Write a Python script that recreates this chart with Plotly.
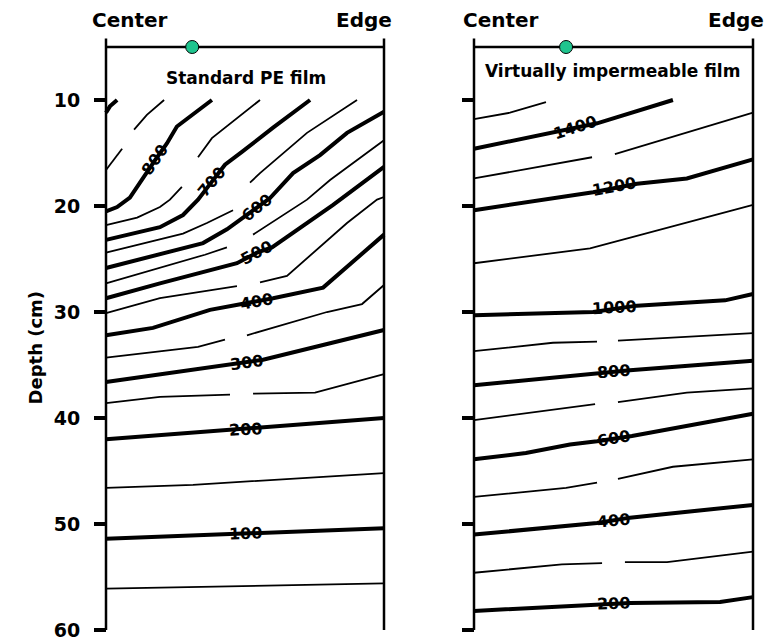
import plotly.graph_objects as go

# ---------------- data (x: 0 = Center, 1 = Edge ; d: depth in cm) ----------------
Y_TICKS = [10, 20, 30, 40, 50, 60]
Y_TICK_LABELS = ["10", "20", "30", "40", "50", "60"]
PANEL_TITLES = ["Standard PE film", "Virtually impermeable film"]
EMITTER_X = [0.31, 0.33]   # drip emitter position (green dot)
SURFACE_D = 5.0

# Standard PE film contours
PE_900_X = [0, 0.014, 0.04];                      PE_900_D = [11.2, 10.6, 10.0]
PE_850_X = [0, 0.058, None, 0.101, 0.147, 0.209]; PE_850_D = [16.6, 14.6, None, 12.8, 11.4, 10.0]
PE_800_X = [0, 0.04, 0.086, 0.133, 0.176, 0.219, 0.255, 0.381]
PE_800_D = [20.5, 20.1, 19.2, 17.3, 15.7, 14.1, 12.5, 10.0]
PE_750_X = [0, 0.112, 0.194, 0.23, 0.273, None, 0.331, 0.381, 0.554]
PE_750_D = [21.8, 21.1, 20.1, 19.4, 18.2, None, 15.4, 13.6, 10.0]
PE_700_X = [0, 0.194, 0.277, 0.331, 0.381, 0.428, 0.489, 0.601, 0.734]
PE_700_D = [23.2, 22.0, 20.85, 19.4, 17.7, 16.1, 14.9, 12.6, 10.0]
PE_650_X = [0, 0.277, 0.363, 0.457, None, 0.518, 0.554, 0.723, 0.903]
PE_650_D = [24.4, 22.6, 21.6, 20.4, None, 17.8, 16.9, 13.1, 10.0]
PE_600_X = [0, 0.349, 0.435, 0.543, 0.59, 0.673, 0.77, 0.867, 1.0]
PE_600_D = [25.85, 23.5, 22.2, 20.1, 19.25, 16.9, 15.2, 13.1, 11.1]
PE_550_X = [0, 0.356, 0.435, None, 0.529, 0.723, 0.806, 1.0]
PE_550_D = [27.3, 24.6, 23.9, None, 22.7, 19.4, 17.55, 13.8]
PE_500_X = [0, 0.194, 0.471, 0.543, 0.597, 0.817, 1.0]
PE_500_D = [28.7, 27.3, 25.4, 24.4, 23.9, 19.9, 16.3]
PE_450_X = [0, 0.194, 0.471, None, 0.554, 0.651, 0.867, 0.975, 1.0]
PE_450_D = [30.1, 28.7, 27.55, None, 27.2, 26.6, 21.6, 19.4, 19.15]
PE_400_X = [0, 0.169, 0.374, 0.543, 0.601, 0.781, 1.0]
PE_400_D = [32.2, 31.5, 29.8, 29.05, 28.7, 27.7, 22.7]
PE_350_X = [0, 0.331, 0.428, None, 0.507, 0.795, 0.921, 1.0]
PE_350_D = [34.3, 33.3, 32.6, None, 32.2, 30.0, 29.25, 27.45]
PE_300_X = [0, 0.435, 0.565, 1.0];               PE_300_D = [36.6, 35.0, 34.5, 31.7]
PE_250_X = [0, 0.194, 0.446, None, 0.529, 0.752, 1.0]
PE_250_D = [38.6, 38.0, 37.8, None, 37.7, 37.6, 35.85]
PE_200_X = [0, 0.435, 0.561, 1.0];               PE_200_D = [42.0, 41.1, 40.9, 40.0]
PE_150_X = [0, 0.313, 1.0];                      PE_150_D = [46.6, 46.3, 45.2]
PE_100_X = [0, 0.5, 1.0];                        PE_100_D = [51.4, 50.9, 50.4]
PE_50_X = [0, 0.554, 1.0];                       PE_50_D = [56.1, 55.85, 55.6]

PE_LABELS = ["800", "700", "600", "500", "400", "300", "200", "100"]
PE_LABEL_X = [0.176, 0.381, 0.543, 0.543, 0.543, 0.507, 0.5, 0.5]
PE_LABEL_D = [15.6, 17.7, 20.1, 24.4, 29.05, 34.8, 41.1, 50.9]
PE_LABEL_ANGLE = [-55, -50, -38, -28, -10, -8, -3, -2]

# Virtually impermeable film contours
VIF_1500_X = [0, 0.129, 0.258];                  VIF_1500_D = [11.8, 11.2, 10.2]
VIF_1400_X = [0, 0.283, 0.441, 0.713];           VIF_1400_D = [14.6, 13.1, 12.2, 10.0]
VIF_1300_X = [0, 0.423, None, 0.505, 1.0];       VIF_1300_D = [17.4, 15.4, None, 15.1, 11.2]
VIF_1200_X = [0, 0.427, 0.584, 0.763, 1.0];      VIF_1200_D = [20.4, 18.7, 17.9, 17.4, 15.6]
VIF_1100_X = [0, 0.416, 1.0];                    VIF_1100_D = [25.4, 24.0, 19.9]
VIF_1000_X = [0, 0.427, 0.584, 0.9, 1.0];        VIF_1000_D = [30.3, 30.0, 29.4, 28.9, 28.3]
VIF_900_X = [0, 0.283, 0.441, None, 0.516, 1.0]; VIF_900_D = [33.7, 32.9, 32.8, None, 32.7, 32.0]
VIF_800_X = [0, 0.441, 0.559, 1.0];              VIF_800_D = [36.9, 35.75, 35.5, 34.6]
VIF_700_X = [0, 0.434, None, 0.516, 0.763, 1.0]; VIF_700_D = [40.2, 38.7, None, 38.5, 37.6, 37.2]
VIF_600_X = [0, 0.186, 0.344, 0.441, 0.566, 0.81, 1.0]
VIF_600_D = [43.9, 43.3, 42.5, 42.2, 41.7, 40.5, 39.6]
VIF_500_X = [0, 0.33, 0.441, None, 0.516, 0.713, 1.0]
VIF_500_D = [47.45, 46.6, 46.1, None, 45.75, 44.6, 43.9]
VIF_400_X = [0, 0.441, 0.559, 1.0];              VIF_400_D = [51.0, 49.9, 49.4, 48.2]
VIF_300_X = [0, 0.315, 0.459, None, 0.541, 0.692, 1.0]
VIF_300_D = [54.6, 53.8, 53.7, None, 53.6, 53.6, 52.6]
VIF_200_X = [0, 0.441, 0.559, 0.882, 1.0];       VIF_200_D = [58.2, 57.6, 57.45, 57.36, 56.9]

VIF_LABELS = ["1400", "1200", "1000", "800", "600", "400", "200"]
VIF_LABEL_X = [0.362, 0.505, 0.505, 0.5, 0.5, 0.5, 0.5]
VIF_LABEL_D = [12.6, 18.2, 29.6, 35.6, 41.9, 49.7, 57.5]
VIF_LABEL_ANGLE = [-18, -10, -3, -4, -10, -5, -2]

PE_THICK = [(PE_900_X, PE_900_D), (PE_800_X, PE_800_D), (PE_700_X, PE_700_D), (PE_600_X, PE_600_D),
            (PE_500_X, PE_500_D), (PE_400_X, PE_400_D), (PE_300_X, PE_300_D), (PE_200_X, PE_200_D),
            (PE_100_X, PE_100_D)]
PE_THIN = [(PE_850_X, PE_850_D), (PE_750_X, PE_750_D), (PE_650_X, PE_650_D), (PE_550_X, PE_550_D),
           (PE_450_X, PE_450_D), (PE_350_X, PE_350_D), (PE_250_X, PE_250_D), (PE_150_X, PE_150_D),
           (PE_50_X, PE_50_D)]
VIF_THICK = [(VIF_1400_X, VIF_1400_D), (VIF_1200_X, VIF_1200_D), (VIF_1000_X, VIF_1000_D),
             (VIF_800_X, VIF_800_D), (VIF_600_X, VIF_600_D), (VIF_400_X, VIF_400_D), (VIF_200_X, VIF_200_D)]
VIF_THIN = [(VIF_1500_X, VIF_1500_D), (VIF_1300_X, VIF_1300_D), (VIF_1100_X, VIF_1100_D),
            (VIF_900_X, VIF_900_D), (VIF_700_X, VIF_700_D), (VIF_500_X, VIF_500_D), (VIF_300_X, VIF_300_D)]

# ---------------- figure ----------------
W, H = 770, 642
BOLD = "DejaVu Sans"
fig = go.Figure()


def add_line(xs, ds, width, xa, ya):
    fig.add_trace(go.Scatter(x=xs, y=ds, mode="lines", xaxis=xa, yaxis=ya,
                             line=dict(color="black", width=width), connectgaps=False,
                             hoverinfo="skip", showlegend=False))


panels = [("x", "y", PE_THICK, PE_THIN), ("x2", "y2", VIF_THICK, VIF_THIN)]
for xa, ya, thick, thin in panels:
    for xs, ds in thin:
        add_line(xs, ds, 1.8, xa, ya)
    for xs, ds in thick:
        add_line(xs, ds, 4, xa, ya)
    # frame: side walls and soil surface
    add_line([0, 0], [4.2, 60], 2.5, xa, ya)
    add_line([1, 1], [4.2, 60], 2.5, xa, ya)
    add_line([0, 1], [SURFACE_D, SURFACE_D], 2.5, xa, ya)

for i, (xa, ya) in enumerate([("x", "y"), ("x2", "y2")]):
    fig.add_trace(go.Scatter(x=[EMITTER_X[i]], y=[SURFACE_D], mode="markers", xaxis=xa, yaxis=ya,
                             marker=dict(size=13, color="#1fc48e", line=dict(color="black", width=1)),
                             hoverinfo="skip", showlegend=False))

ann = []
lab_font = dict(family=BOLD, size=16, color="black", weight="bold")
for lab, x, d, a in zip(PE_LABELS, PE_LABEL_X, PE_LABEL_D, PE_LABEL_ANGLE):
    ann.append(dict(text=lab, x=x, y=d, xref="x", yref="y", textangle=a, showarrow=False, font=lab_font))
for lab, x, d, a in zip(VIF_LABELS, VIF_LABEL_X, VIF_LABEL_D, VIF_LABEL_ANGLE):
    ann.append(dict(text=lab, x=x, y=d, xref="x2", yref="y2", textangle=a, showarrow=False, font=lab_font))

head_font = dict(family=BOLD, size=20, color="black", weight="bold")
for xr, yr, cx, ex in [("x", "y", 0.086, 0.928), ("x2", "y2", 0.097, 0.939)]:
    ann.append(dict(text="Center", x=cx, y=2.45, xref=xr, yref=yr, showarrow=False, font=head_font))
    ann.append(dict(text="Edge", x=ex, y=2.45, xref=xr, yref=yr, showarrow=False, font=head_font))

title_font = dict(family=BOLD, size=17, color="black", weight="bold")
ann.append(dict(text=PANEL_TITLES[0], x=0.504, y=7.9, xref="x", yref="y", showarrow=False, font=title_font))
ann.append(dict(text=PANEL_TITLES[1], x=0.498, y=7.26, xref="x2", yref="y2", showarrow=False, font=title_font))

ann.append(dict(text="Depth (cm)", x=23 / W, y=1 - 348 / H, xref="paper", yref="paper", textangle=-90,
                showarrow=False, font=dict(family=BOLD, size=18, color="black", weight="bold")))

y_top = 10 - 100 / 10.6
y_bot = 10 + (H - 100) / 10.6
pad = 0.02
common_y = dict(range=[y_bot, y_top], showgrid=False, zeroline=False, showline=False,
                tickvals=Y_TICKS, ticks="outside", ticklen=12, tickwidth=4, tickcolor="black",
                anchor="free", automargin=False)

fig.update_layout(
    width=W, height=H, margin=dict(l=0, r=0, t=0, b=0),
    paper_bgcolor="white", plot_bgcolor="white", showlegend=False,
    xaxis=dict(domain=[(106 - pad * 278) / W, (384 + pad * 278) / W], range=[-pad, 1 + pad], visible=False),
    xaxis2=dict(domain=[(474 - pad * 279) / W, (753 + pad * 279) / W], range=[-pad, 1 + pad], visible=False),
    yaxis=dict(common_y, position=106 / W, ticktext=Y_TICK_LABELS, ticklabelstandoff=10,
               tickfont=dict(family=BOLD, size=19, color="black", weight="bold")),
    yaxis2=dict(common_y, position=474 / W, showticklabels=False),
    annotations=ann,
)

# remove the browser's default 8px page margin so the figure sits at the window's corner
fig.write_html("out.html", config={"displayModeBar": False, "staticPlot": True},
               post_script="document.body.style.margin='0';document.body.style.overflow='hidden';")
